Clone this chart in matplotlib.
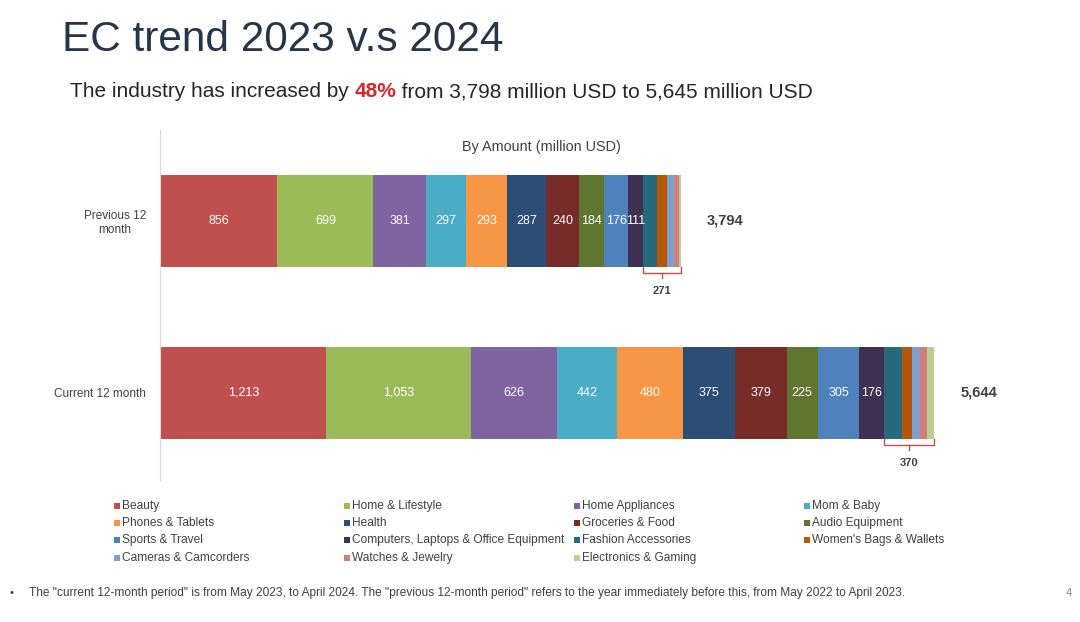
import matplotlib
matplotlib.use("Agg")
import matplotlib.pyplot as plt
import numpy as np

plt.rcParams['font.family'] = ['Liberation Sans', 'DejaVu Sans']

categories = ["Previous 12\nmonth", "Current 12 month"]
segments = ["Beauty", "Home & Lifestyle", "Home Appliances", "Mom & Baby",
            "Phones & Tablets", "Health", "Groceries & Food", "Audio Equipment",
            "Sports & Travel", "Computers, Laptops & Office Equipment",
            "Fashion Accessories", "Women's Bags & Wallets",
            "Cameras & Camcorders", "Watches & Jewelry", "Electronics & Gaming"]
previous = [856, 699, 381, 297, 293, 287, 240, 184, 176, 111, 95, 73, 52, 36, 15]
current = [1213, 1053, 626, 442, 480, 375, 379, 225, 305, 176, 131, 73, 65, 51, 50]
totals = ["3,794", "5,644"]
small_group = ["271", "370"]
n_labeled = 10

colors = ["#C0504D", "#9BBB59", "#8064A2", "#4BACC6", "#F79646", "#2C4D75",
          "#772C2A", "#5F7530", "#4F81BD", "#403152", "#276A7C", "#B65708",
          "#7F9FCC", "#D07E7C", "#B9CE8F"]

fig = plt.figure(figsize=(10.8, 6.22), dpi=100)
W, H = 1080, 622

# axes in pixel layout
left, right, top, bottom = 160, 1060, 130, 480
ax = fig.add_axes([left / W, 1 - bottom / H, (right - left) / W, (bottom - top) / H])
scale = 0.1372  # px per unit
ax.set_xlim(0, (right - left) / scale)
ax.set_ylim(-0.506, 1.529)

ypos = [1, 0]
data = [previous, current]
bh = 0.54
for yi, vals in zip(ypos, data):
    lefts = np.concatenate([[0], np.cumsum(vals)[:-1]])
    for j, (l, v) in enumerate(zip(lefts, vals)):
        ax.barh(yi, v, left=l, height=bh, color=colors[j], edgecolor='none')
        if j < n_labeled:
            ax.text(l + v / 2, yi, f"{v:,}", ha='center', va='center',
                    color='white', fontsize=9)
# totals
for yi, vals, t in zip(ypos, data, totals):
    ax.annotate(t, xy=(sum(vals), yi), xytext=(19, 0), textcoords='offset points',
                ha='left', va='center', fontsize=10.5, fontweight='bold',
                color='#404040')
# brackets for small segments
for yi, vals, lab in zip(ypos, data, small_group):
    x0 = sum(vals[:n_labeled])
    x1 = sum(vals)
    yb = yi - bh / 2 - 0.03
    yt = yi - bh / 2
    ax.plot([x0, x0, x1, x1], [yt, yb, yb, yt], color='#C0504D', lw=1.0, clip_on=False)
    xm = (x0 + x1) / 2
    ax.plot([xm, xm], [yb, yb - 0.03], color='#C0504D', lw=1.0, clip_on=False)
    ax.text(xm, yb - 0.11, lab, ha='center', va='center', fontsize=8,
            fontweight='bold', color='#404040')

ax.set_yticks(ypos)
ax.set_yticklabels(categories, fontsize=8.5, color='#404040', multialignment='center')
ax.tick_params(axis='y', length=0, pad=10)
ax.set_xticks([])
for s in ['top', 'right', 'bottom']:
    ax.spines[s].set_visible(False)
ax.spines['left'].set_color('#D9D9D9')

# overlay in pixel coordinates
ov = fig.add_axes([0, 0, 1, 1], facecolor='none')
ov.set_xlim(0, W)
ov.set_ylim(H, 0)
ov.axis('off')

ov.text(62, 40, "EC trend 2023 v.s 2024", fontsize=30.5, color='#263548',
        ha='left', va='center')

fig.canvas.draw()
r = fig.canvas.get_renderer()
parts = [("The industry has increased by ", '#262626', 'normal'),
         ("48%", '#D9262C', 'bold'),
         (" from 3,798 million USD to 5,645 million USD", '#262626', 'normal')]
xcur = 70
for txt, col, fw in parts:
    t = ov.text(xcur, 97, txt, fontsize=15, color=col, fontweight=fw,
                ha='left', va='baseline')
    bb = t.get_window_extent(r)
    xcur += bb.width

ov.text(541, 147, "By Amount (million USD)", fontsize=10.4, color='#404040',
        ha='center', va='center')

# legend
for i in range(len(segments)):
    row, col = divmod(i, 4)
    x = 117 + col * 230
    y = 506 + row * 17.2
    ov.scatter([x], [y], marker='s', s=14, color=colors[i], linewidths=0)
    ov.text(x + 5, y, segments[i], fontsize=8.6, color='#404040', ha='left', va='center')

ov.text(10, 593, "•", fontsize=8, color='#404040', ha='left', va='center')
ov.text(29, 593, "The \"current 12-month period\" is from May 2023, to April 2024. The \"previous 12-month period\" refers to the year immediately before this, from May 2022 to April 2023.",
        fontsize=8.6, color='#404040', ha='left', va='center')
ov.text(1066, 593, "4", fontsize=8, color='#808080', ha='left', va='center')

fig.savefig("out.png", dpi=100)
